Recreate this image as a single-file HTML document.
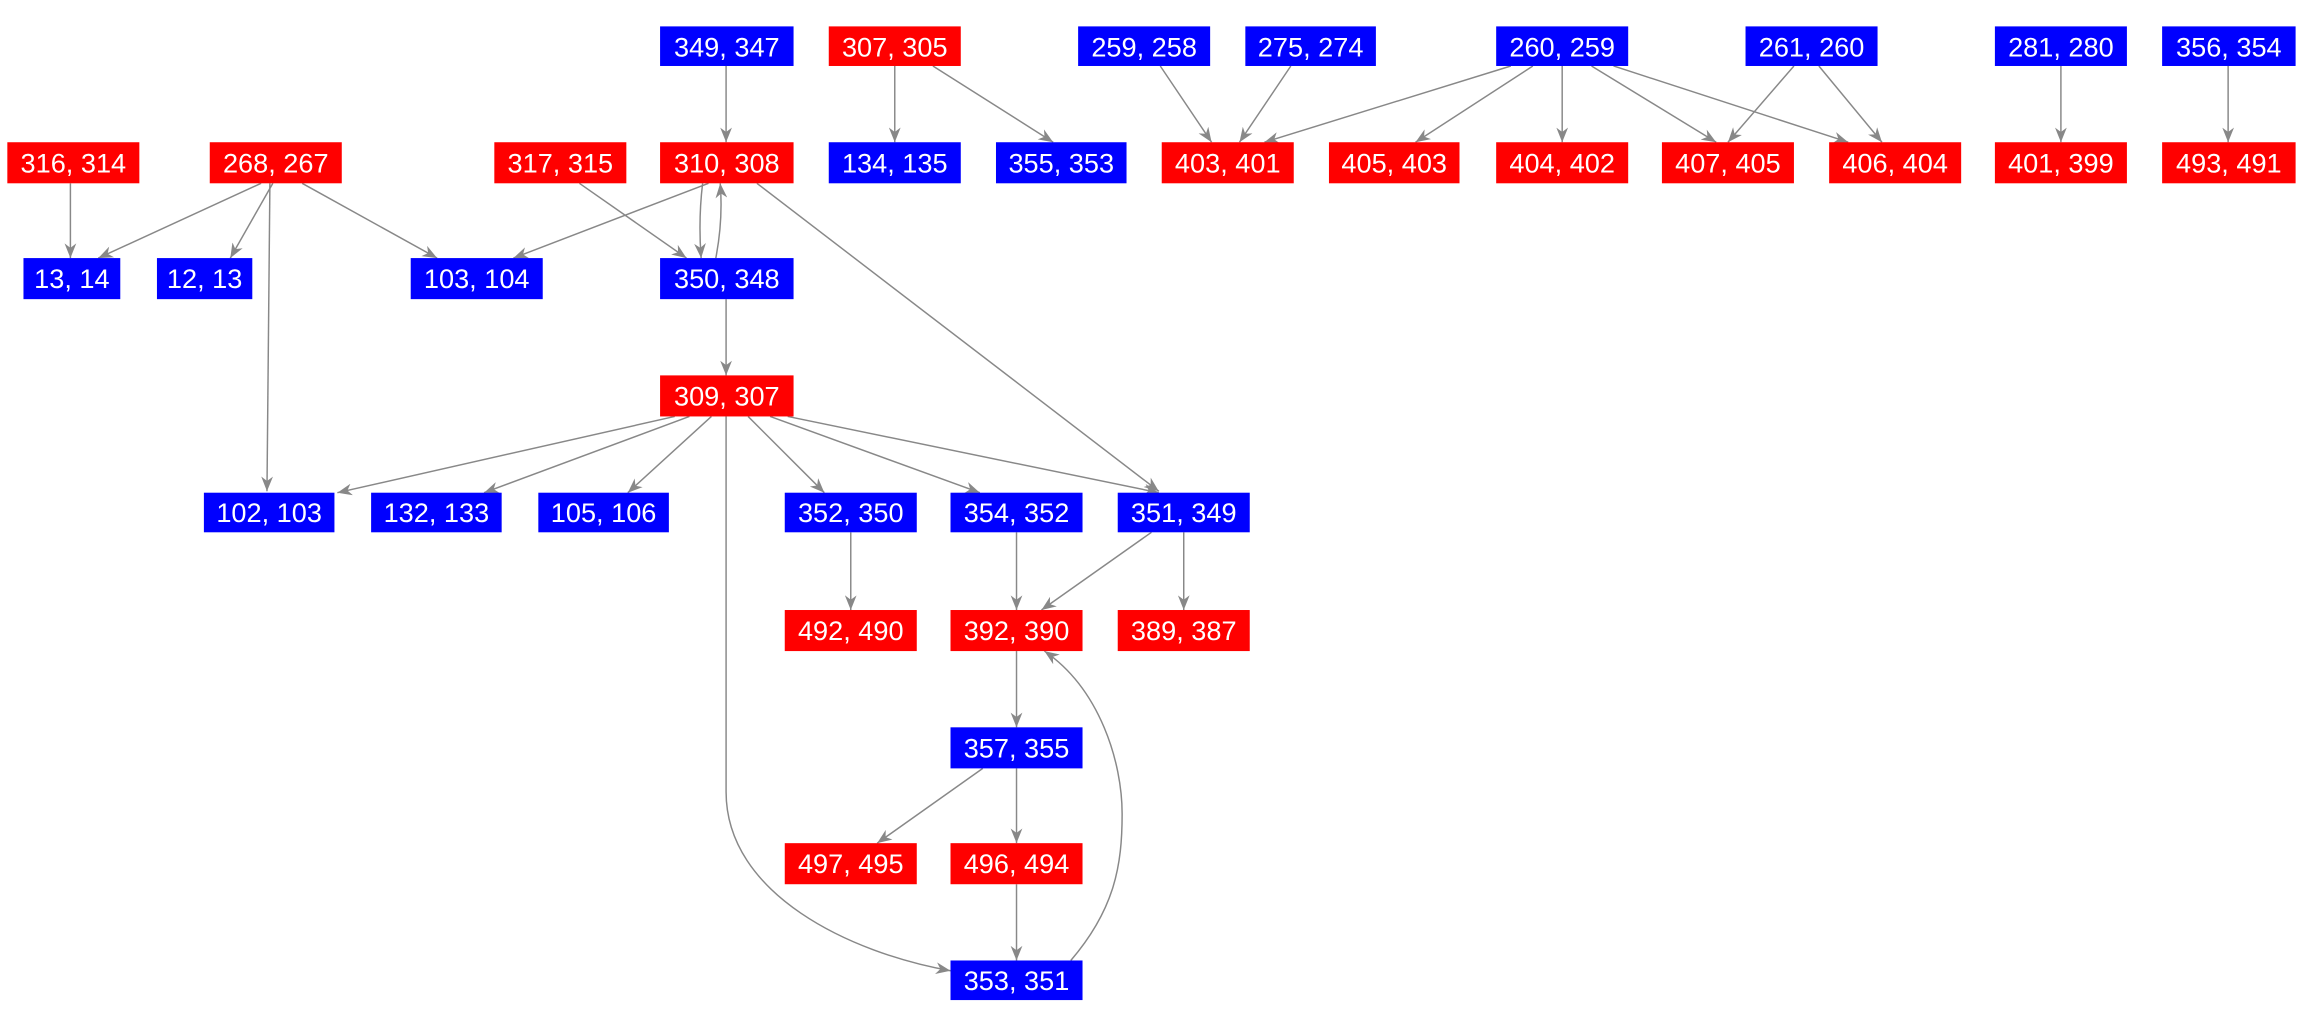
<!DOCTYPE html>
<html><head><meta charset="utf-8"><style>
html,body{margin:0;padding:0;background:#fff;width:2300px;height:1025px;overflow:hidden}
svg{display:block}
text{font-family:"Liberation Sans",Arial,sans-serif;font-size:18.5px;fill:#fff;text-anchor:middle;dominant-baseline:central}
.e{fill:none;stroke:#888;stroke-width:1}
</style></head><body>
<svg width="2300" height="1025" viewBox="0 0 1568 699" preserveAspectRatio="none" xmlns="http://www.w3.org/2000/svg">
<defs><marker id="a" viewBox="0 0 10 8" refX="10" refY="4" markerWidth="11" markerHeight="8" markerUnits="userSpaceOnUse" orient="auto"><path d="M0,0 L10,4 L0,8 L3,4 z" fill="#888"/></marker></defs>
<g class="e" marker-end="url(#a)">
<path d="M495,45 L495,97"/>
<path d="M610,45 L610,97"/>
<path d="M636,45 L718,97"/>
<path d="M791,45 L826,97"/>
<path d="M880,45 L845,97"/>
<path d="M1030,45 L862,97"/>
<path d="M1045,45 L965,97"/>
<path d="M1065,45 L1065,97"/>
<path d="M1085,45 L1170,97"/>
<path d="M1100,45 L1260,97"/>
<path d="M1223,45 L1178,97"/>
<path d="M1240,45 L1283,97"/>
<path d="M1405,45 L1405,97"/>
<path d="M1519,45 L1519,97"/>
<path d="M48,125 L48,176"/>
<path d="M178,125 L67,176"/>
<path d="M186,125 L157,176"/>
<path d="M206,125 L298,176"/>
<path d="M184,125 L182,335"/>
<path d="M395,125 L468,176"/>
<path d="M483,125 L350,176"/>
<path d="M479,125 Q476,150 478,176"/>
<path d="M488,176 Q493,150 491,125"/>
<path d="M516,125 L790,335"/>
<path d="M495,204 L495,256"/>
<path d="M460,284 L230,336"/>
<path d="M470,284 L330,336"/>
<path d="M485,284 L428,336"/>
<path d="M510,284 L562,336"/>
<path d="M525,284 L668,336"/>
<path d="M537,284 L790,336"/>
<path d="M495,284 L495,540 C495,610 580,650 648,662"/>
<path d="M580,363 L580,416"/>
<path d="M693,363 L693,416"/>
<path d="M785,363 L710,416"/>
<path d="M807,363 L807,416"/>
<path d="M693,444 L693,496"/>
<path d="M670,524 L598,575"/>
<path d="M693,524 L693,575"/>
<path d="M693,603 L693,655"/>
<path d="M730,655 C760,620 765,590 765,555 C765,520 750,470 712,444"/>
</g>
<g>
<rect x="450" y="18" width="91" height="27" fill="#00f"/><text x="495.5" y="32">349, 347</text>
<rect x="565" y="18" width="90" height="27" fill="#f00"/><text x="610" y="32">307, 305</text>
<rect x="735" y="18" width="90" height="27" fill="#00f"/><text x="780" y="32">259, 258</text>
<rect x="849" y="18" width="89" height="27" fill="#00f"/><text x="893.5" y="32">275, 274</text>
<rect x="1020" y="18" width="90" height="27" fill="#00f"/><text x="1065" y="32">260, 259</text>
<rect x="1190" y="18" width="90" height="27" fill="#00f"/><text x="1235" y="32">261, 260</text>
<rect x="1360" y="18" width="90" height="27" fill="#00f"/><text x="1405" y="32">281, 280</text>
<rect x="1474" y="18" width="91" height="27" fill="#00f"/><text x="1519.5" y="32">356, 354</text>

<rect x="5" y="97" width="90" height="28" fill="#f00"/><text x="50" y="111">316, 314</text>
<rect x="143" y="97" width="90" height="28" fill="#f00"/><text x="188" y="111">268, 267</text>
<rect x="337" y="97" width="90" height="28" fill="#f00"/><text x="382" y="111">317, 315</text>
<rect x="450" y="97" width="91" height="28" fill="#f00"/><text x="495.5" y="111">310, 308</text>
<rect x="565" y="97" width="90" height="28" fill="#00f"/><text x="610" y="111">134, 135</text>
<rect x="679" y="97" width="89" height="28" fill="#00f"/><text x="723.5" y="111">355, 353</text>
<rect x="792" y="97" width="90" height="28" fill="#f00"/><text x="837" y="111">403, 401</text>
<rect x="906" y="97" width="89" height="28" fill="#f00"/><text x="950.5" y="111">405, 403</text>
<rect x="1020" y="97" width="90" height="28" fill="#f00"/><text x="1065" y="111">404, 402</text>
<rect x="1133" y="97" width="90" height="28" fill="#f00"/><text x="1178" y="111">407, 405</text>
<rect x="1247" y="97" width="90" height="28" fill="#f00"/><text x="1292" y="111">406, 404</text>
<rect x="1360" y="97" width="90" height="28" fill="#f00"/><text x="1405" y="111">401, 399</text>
<rect x="1474" y="97" width="91" height="28" fill="#f00"/><text x="1519.5" y="111">493, 491</text>

<rect x="16" y="176" width="66" height="28" fill="#00f"/><text x="49" y="190">13, 14</text>
<rect x="107" y="176" width="65" height="28" fill="#00f"/><text x="139.5" y="190">12, 13</text>
<rect x="280" y="176" width="90" height="28" fill="#00f"/><text x="325" y="190">103, 104</text>
<rect x="450" y="176" width="91" height="28" fill="#00f"/><text x="495.5" y="190">350, 348</text>

<rect x="450" y="256" width="91" height="28" fill="#f00"/><text x="495.5" y="270">309, 307</text>

<rect x="139" y="336" width="89" height="27" fill="#00f"/><text x="183.5" y="349.5">102, 103</text>
<rect x="253" y="336" width="89" height="27" fill="#00f"/><text x="297.5" y="349.5">132, 133</text>
<rect x="367" y="336" width="89" height="27" fill="#00f"/><text x="411.5" y="349.5">105, 106</text>
<rect x="535" y="336" width="90" height="27" fill="#00f"/><text x="580" y="349.5">352, 350</text>
<rect x="648" y="336" width="90" height="27" fill="#00f"/><text x="693" y="349.5">354, 352</text>
<rect x="762" y="336" width="90" height="27" fill="#00f"/><text x="807" y="349.5">351, 349</text>

<rect x="535" y="416" width="90" height="28" fill="#f00"/><text x="580" y="430">492, 490</text>
<rect x="648" y="416" width="90" height="28" fill="#f00"/><text x="693" y="430">392, 390</text>
<rect x="762" y="416" width="90" height="28" fill="#f00"/><text x="807" y="430">389, 387</text>

<rect x="648" y="496" width="90" height="28" fill="#00f"/><text x="693" y="510">357, 355</text>

<rect x="535" y="575" width="90" height="28" fill="#f00"/><text x="580" y="589">497, 495</text>
<rect x="648" y="575" width="90" height="28" fill="#f00"/><text x="693" y="589">496, 494</text>

<rect x="648" y="655" width="90" height="27" fill="#00f"/><text x="693" y="668.5">353, 351</text>
</g>
</svg>
</body></html>
